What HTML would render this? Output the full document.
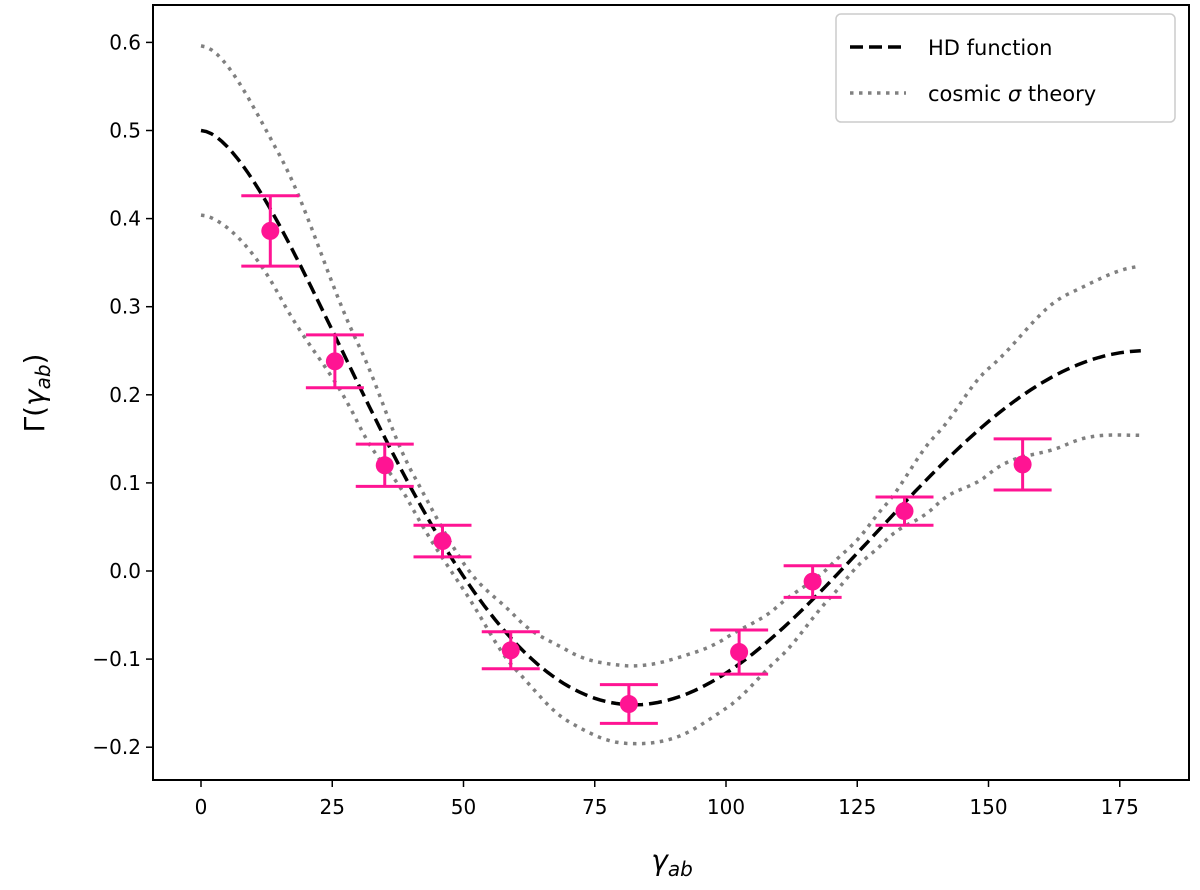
<!DOCTYPE html>
<html><head><meta charset="utf-8"><style>
body{margin:0;background:#fff}
svg text{font-family:"DejaVu Sans","Liberation Sans",sans-serif}
</style></head><body>
<svg id="chart" width="1200" height="885" xmlns="http://www.w3.org/2000/svg">
<g id="bands"></g><g id="pts"></g><g id="axes"></g>
</svg>
<script>
const xTicks=[0,25,50,75,100,125,150,175];
const yTicks=[-0.2,-0.1,0.0,0.1,0.2,0.3,0.4,0.5,0.6];
const ptAngles=[13.2,25.5,35,46,59,81.5,102.5,116.5,134,156.5];
const ptValues=[0.386,0.238,0.12,0.034,-0.09,-0.151,-0.092,-0.012,0.068,0.121];
const ptErrors=[0.04,0.03,0.024,0.018,0.021,0.022,0.025,0.018,0.016,0.029];
const sigAngles=[0,15,30,40,50,60,70,80,90,100,110,120,125,130,140,150,165,180];
const sigValues=[0.096,0.08,0.045,0.02,0.015,0.03,0.04,0.044,0.045,0.04,0.03,0.018,0.015,0.02,0.04,0.06,0.085,0.096];
const NS="http://www.w3.org/2000/svg";
const X=v=>201+v*5.25, Y=v=>571-v*881;
function mk(p,t,a){const e=document.createElementNS(NS,t);for(const k in a)e.setAttribute(k,a[k]);p.appendChild(e);return e;}
function hd(g){const x=(1-Math.cos(g*Math.PI/180))/2;return x<=0?0.5:0.5-x/4+1.5*x*Math.log(x);}
function sig(g){for(let i=0;i<sigAngles.length-1;i++){if(g<=sigAngles[i+1]){const t=(g-sigAngles[i])/(sigAngles[i+1]-sigAngles[i]);const s=(1-Math.cos(t*Math.PI))/2;return sigValues[i]+(sigValues[i+1]-sigValues[i])*s;}}return sigValues[sigValues.length-1];}
const svg=document.getElementById('chart');
const bands=document.getElementById('bands');
let dh='',du='',dl='';
for(let g=0;g<=179;g+=1){const h=hd(g),s=sig(g);const c=g?'L':'M';dh+=c+X(g).toFixed(1)+' '+Y(h).toFixed(1);du+=c+X(g).toFixed(1)+' '+Y(h+s).toFixed(1);dl+=c+X(g).toFixed(1)+' '+Y(h-s).toFixed(1);}
const up=mk(bands,'path',{d:du,fill:'none',stroke:'#808080','stroke-width':3.5,'stroke-dasharray':'3.5 5.5'});


const lo=mk(bands,'path',{d:dl,fill:'none',stroke:'#808080','stroke-width':3.5,'stroke-dasharray':'3.5 5.5'});


const hl=mk(bands,'path',{d:dh,fill:'none',stroke:'#000','stroke-width':3.5,'stroke-dasharray':'13 6'});


const pts=document.getElementById('pts');
ptAngles.forEach((a,i)=>{const g=mk(pts,'g',{});


const x=X(a),y0=Y(ptValues[i]-ptErrors[i]),y1=Y(ptValues[i]+ptErrors[i]);
mk(g,'line',{x1:x,x2:x,y1:y0,y2:y1,stroke:'#ff1493','stroke-width':3});
mk(g,'line',{x1:x-29,x2:x+29,y1:y0,y2:y0,stroke:'#ff1493','stroke-width':3});
mk(g,'line',{x1:x-29,x2:x+29,y1:y1,y2:y1,stroke:'#ff1493','stroke-width':3});
mk(g,'circle',{cx:x,cy:Y(ptValues[i]),r:9,fill:'#ff1493'});});
const ax=document.getElementById('axes');
const fr=mk(ax,'rect',{x:153,y:5,width:1036,height:775,fill:'none',stroke:'#000','stroke-width':2});


xTicks.forEach(v=>{mk(ax,'line',{x1:X(v),x2:X(v),y1:780,y2:787,stroke:'#000','stroke-width':1.5});
const t=mk(ax,'text',{x:X(v),y:814,'text-anchor':'middle','font-size':20});t.textContent=v;

});
yTicks.forEach(v=>{mk(ax,'line',{x1:146,x2:153,y1:Y(v),y2:Y(v),stroke:'#000','stroke-width':1.5});
const t=mk(ax,'text',{x:141,y:Y(v)+7,'text-anchor':'end','font-size':20});t.textContent=(v<0?'\u2212':'')+Math.abs(v).toFixed(1);

});
</script>
<svg width="1200" height="885" style="position:absolute;left:0;top:0" xmlns="http://www.w3.org/2000/svg">
<text x="672" y="870" text-anchor="middle" font-size="28" font-style="italic" font-family="DejaVu Sans, sans-serif">γ<tspan font-size="20" dy="6">ab</tspan></text>
<text transform="translate(44,393) rotate(-90)" text-anchor="middle" font-size="28" font-family="DejaVu Sans, sans-serif">Γ(<tspan font-style="italic">γ</tspan><tspan font-size="20" dy="6" font-style="italic">ab</tspan><tspan dy="-6">)</tspan></text>
<g>
<rect x="836" y="14" width="339" height="108" rx="5" fill="#fff" stroke="#ccc" stroke-width="1.5"/>
<line x1="850" x2="906" y1="47" y2="47" stroke="#000" stroke-width="3.5" stroke-dasharray="13 6"/>
<text x="928" y="55" font-size="21" font-family="DejaVu Sans, sans-serif">HD function</text>
<line x1="850" x2="906" y1="93" y2="93" stroke="#808080" stroke-width="3.5" stroke-dasharray="3.5 5.5"/>
<text x="928" y="101" font-size="21" font-family="DejaVu Sans, sans-serif">cosmic <tspan font-style="italic">σ</tspan> theory</text>
</g>
</svg>
</body></html>
